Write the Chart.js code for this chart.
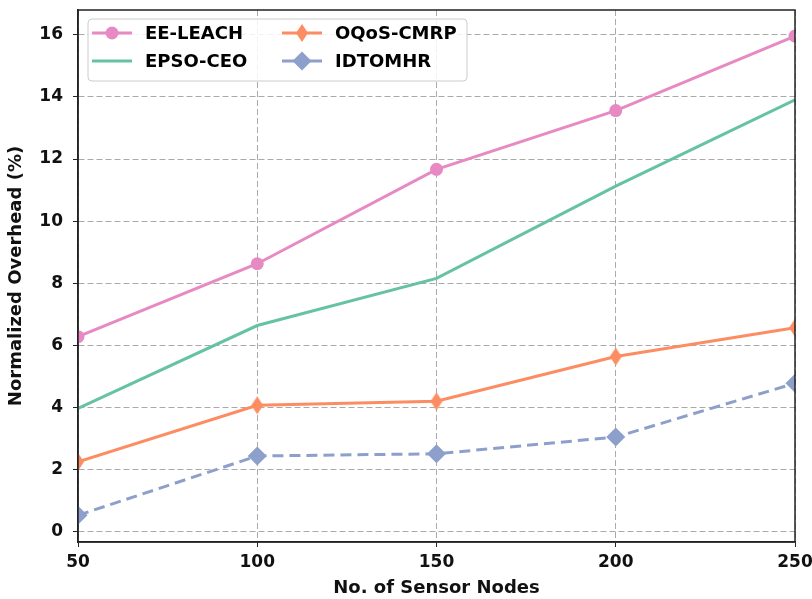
<!DOCTYPE html>
<html>
<head>
<meta charset="utf-8">
<script src="https://cdn.jsdelivr.net/npm/chart.js@4.4.1/dist/chart.umd.min.js"></script>
<style>
  html, body { margin: 0; padding: 0; background: #fff; }
  #wrap { width: 812px; height: 599px; }
</style>
</head>
<body>
<div id="wrap"><canvas id="chart"></canvas></div>
<script>
// data
const nodes = [50, 100, 150, 200, 250];
const eeLeach = [6.28, 8.63, 11.67, 13.56, 15.96];
const epsoCeo = [3.97, 6.64, 8.16, 11.13, 13.91];
const oqosCmrp = [2.25, 4.07, 4.2, 5.64, 6.57];
const idtomhr = [0.53, 2.44, 2.51, 3.05, 4.78];
const yTicks = [0, 2, 4, 6, 8, 10, 12, 14, 16];

const pink = '#e78ac3', green = '#66c2a5', orange = '#fc8d62', blue = '#8da0cb';
const fam = 'DejaVu Sans';

// thin diamond marker (matplotlib 'd')
function thinDiamond(color) {
  const c = document.createElement('canvas');
  c.width = 14; c.height = 20;
  const g = c.getContext('2d');
  g.fillStyle = color;
  g.beginPath();
  g.moveTo(7, 1); g.lineTo(13, 10); g.lineTo(7, 19); g.lineTo(1, 10);
  g.closePath(); g.fill();
  return c;
}
const thinD = thinDiamond(orange);

const pts = arr => arr.map((v, i) => ({ x: nodes[i], y: v }));

const series = [
  { label: 'EE-LEACH', data: pts(eeLeach), borderColor: pink, backgroundColor: pink,
    pointStyle: 'circle', pointRadius: 6.5, borderDash: [] },
  { label: 'EPSO-CEO', data: pts(epsoCeo), borderColor: green, backgroundColor: green,
    pointStyle: 'circle', pointRadius: 0, borderDash: [] },
  { label: 'OQoS-CMRP', data: pts(oqosCmrp), borderColor: orange, backgroundColor: orange,
    pointStyle: thinD, pointRadius: 9, borderDash: [] },
  { label: 'IDTOMHR', data: pts(idtomhr), borderColor: blue, backgroundColor: blue,
    pointStyle: 'rectRot', pointRadius: 9.5, borderDash: [11, 6] }
];

// frame around the plot + matplotlib style legend in two columns
const framePlugin = {
  id: 'frame',
  afterDraw(chart) {
    const { ctx, chartArea: a } = chart;
    ctx.save();
    ctx.strokeStyle = '#222';
    ctx.lineWidth = 1.5;
    ctx.strokeRect(a.left, a.top, a.right - a.left, a.bottom - a.top);

    // legend box
    const bx = 88, by = 19, bw = 379, bh = 62, r = 4;
    ctx.fillStyle = 'rgba(255,255,255,0.85)';
    ctx.strokeStyle = '#cccccc';
    ctx.lineWidth = 1;
    ctx.beginPath();
    ctx.roundRect(bx, by, bw, bh, r);
    ctx.fill();
    ctx.stroke();

    const cols = [92, 282];
    const rows = [33, 61];
    chart.data.datasets.forEach((ds, i) => {
      const col = Math.floor(i / 2), row = i % 2;
      const x0 = cols[col], y = rows[row];
      ctx.strokeStyle = ds.borderColor;
      ctx.lineWidth = 3;
      ctx.setLineDash([]);
      ctx.beginPath();
      ctx.moveTo(x0, y);
      ctx.lineTo(x0 + 40, y);
      ctx.stroke();
      if (ds.pointRadius > 0) {
        ctx.fillStyle = ds.backgroundColor;
        ctx.beginPath();
        if (ds.pointStyle === 'circle') {
          ctx.arc(x0 + 20, y, ds.pointRadius, 0, Math.PI * 2);
          ctx.fill();
        } else if (ds.pointStyle === 'rectRot') {
          const h = ds.pointRadius;
          ctx.moveTo(x0 + 20, y - h); ctx.lineTo(x0 + 20 + h, y);
          ctx.lineTo(x0 + 20, y + h); ctx.lineTo(x0 + 20 - h, y);
          ctx.closePath(); ctx.fill();
        } else {
          ctx.drawImage(ds.pointStyle, x0 + 13, y - 10);
        }
      }
      ctx.fillStyle = '#000';
      ctx.font = 'bold 18px ' + fam;
      ctx.textBaseline = 'middle';
      ctx.textAlign = 'left';
      ctx.fillText(ds.label, x0 + 53, y + 1);
    });
    ctx.restore();
  }
};

new Chart(document.getElementById('chart'), {
  type: 'line',
  data: {
    datasets: series.map(s => ({
      ...s,
      borderWidth: 3,
      pointBorderWidth: 0,
      pointHoverRadius: s.pointRadius,
      tension: 0,
      fill: false
    }))
  },
  options: {
    responsive: true,
    maintainAspectRatio: false,
    animation: false,
    events: [],
    layout: { padding: { top: 10, right: 17, left: 0, bottom: 0 } },
    plugins: {
      legend: { display: false },
      tooltip: { enabled: false }
    },
    scales: {
      x: {
        type: 'linear',
        min: 50,
        max: 250,
        afterBuildTicks: s => { s.ticks = nodes.map(v => ({ value: v })); },
        afterFit: s => { s.height = 57; s.paddingLeft = 0; s.paddingRight = 0; },
        grid: { color: '#aaaaaa', tickColor: '#222', tickLength: 5, tickBorderDash: [], lineWidth: 1 },
        border: { display: true, color: '#222', width: 1.5, dash: [6, 3] },
        ticks: { color: '#111', padding: 5, font: { family: fam, size: 17, weight: 'bold' }, maxRotation: 0 },
        title: { display: true, text: 'No. of Sensor Nodes', color: '#111', padding: { top: 5, bottom: 0 },
          font: { family: fam, size: 18, weight: 'bold' } }
      },
      y: {
        min: -0.33,
        max: 16.8,
        afterBuildTicks: s => { s.ticks = yTicks.map(v => ({ value: v })); },
        afterFit: s => { s.width = 78; s.paddingTop = 0; s.paddingBottom = 0; },
        grid: { color: '#aaaaaa', tickColor: '#222', tickLength: 5, tickBorderDash: [], lineWidth: 1 },
        border: { display: true, color: '#222', width: 1.5, dash: [6, 3] },
        ticks: { color: '#111', padding: 10, font: { family: fam, size: 17, weight: 'bold' } },
        title: { display: true, text: 'Normalized Overhead (%)', color: '#111', padding: { top: 6, bottom: 4 },
          font: { family: fam, size: 18, weight: 'bold' } }
      }
    }
  },
  plugins: [framePlugin]
});
</script>
</body>
</html>
